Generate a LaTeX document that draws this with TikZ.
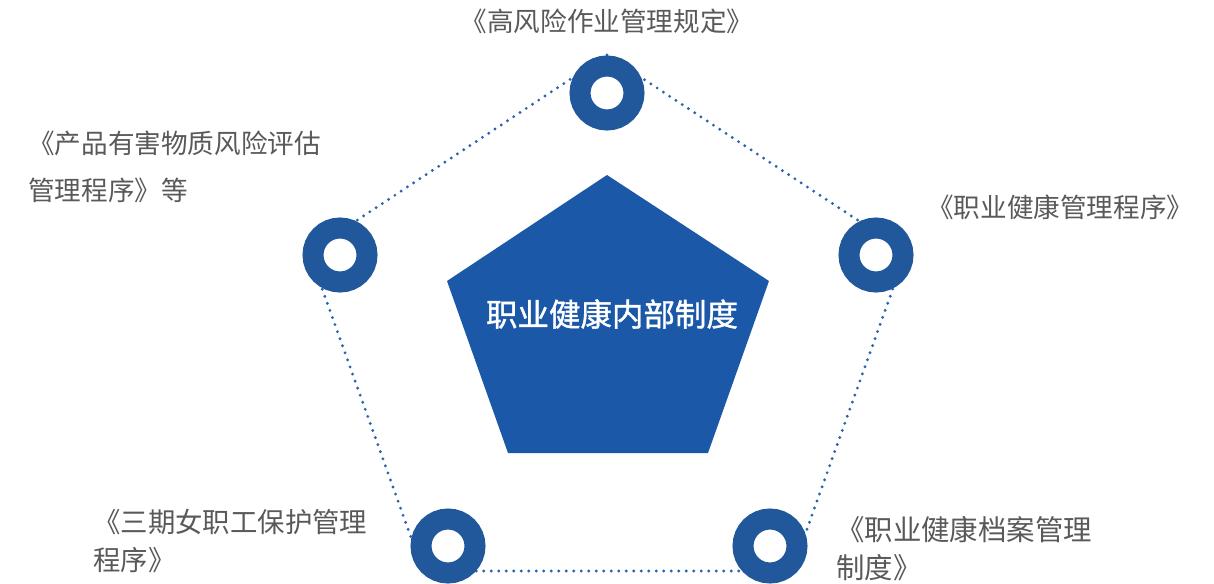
\documentclass[tikz,border=0pt]{standalone}
\usepackage{fontspec}
\newfontfamily\cjk{Noto Sans CJK SC}
\newfontfamily\cjkb[FakeBold=1.2]{Noto Sans CJK SC}
\usetikzlibrary{positioning}

\definecolor{ringblue}{HTML}{21589B}
\definecolor{pentblue}{HTML}{1B58A7}
\definecolor{dotblue}{HTML}{2B64AE}
\definecolor{textgray}{HTML}{595959}

\begin{document}
\begin{tikzpicture}[
    x=1pt, y=-1pt,
    ring/.style={circle, draw=ringblue, line width=21pt, fill=white, minimum size=54pt, inner sep=0pt},
    dotline/.style={dotblue, line width=3.2pt, line cap=round, dash pattern=on 0pt off 7.5pt},
    lbl/.style={textgray, inner sep=0pt, align=left, font=\cjk\fontsize{26.6}{38}\selectfont},
    maintext/.style={white, inner sep=0pt, font=\cjkb\fontsize{31.5}{36}\selectfont}
]
\useasboundingbox (0,0) rectangle (1214,583);

% Outer dotted pentagon
\coordinate (T) at (607,55);
\coordinate (R) at (906,252);
\coordinate (BR) at (792,571);
\coordinate (BL) at (423,571);
\coordinate (L) at (309,252);
\draw[dotline] (T) -- (R) -- (BR) -- (BL) -- (L) -- cycle;

% Centre pentagon
\fill[pentblue] (607,175) -- (769,281) -- (708,453) -- (508,453) -- (447,281) -- cycle;
\node[maintext] (IHS) at (612,314) {职业健康内部制度};

% Rings
\node[ring] (HRW) at (607,93) {};
\node[ring] (HSR) at (340,255) {};
\node[ring] (OHP) at (876,255) {};
\node[ring] (FWP) at (448,546) {};
\node[ring] (OHR) at (770,546) {};

% Labels (base = last line)
\node[lbl, anchor=base] (HRWt) at (607,32) {《高风险作业管理规定》};
\node[lbl, anchor=base west, font=\cjk\fontsize{26.6}{47}\selectfont] (HSRt) at (28,200) {《产品有害物质风险评估\\管理程序》等};
\node[lbl, anchor=base west] (OHPt) at (927,217) {《职业健康管理程序》};
\node[lbl, anchor=base west, font=\cjk\fontsize{27.4}{38}\selectfont] (FWPt) at (93,570) {《三期女职工保护管理\\程序》};
\node[lbl, anchor=base west, font=\cjk\fontsize{28.4}{38}\selectfont] (OHRt) at (836,578) {《职业健康档案管理\\制度》};

\end{tikzpicture}
\end{document}
